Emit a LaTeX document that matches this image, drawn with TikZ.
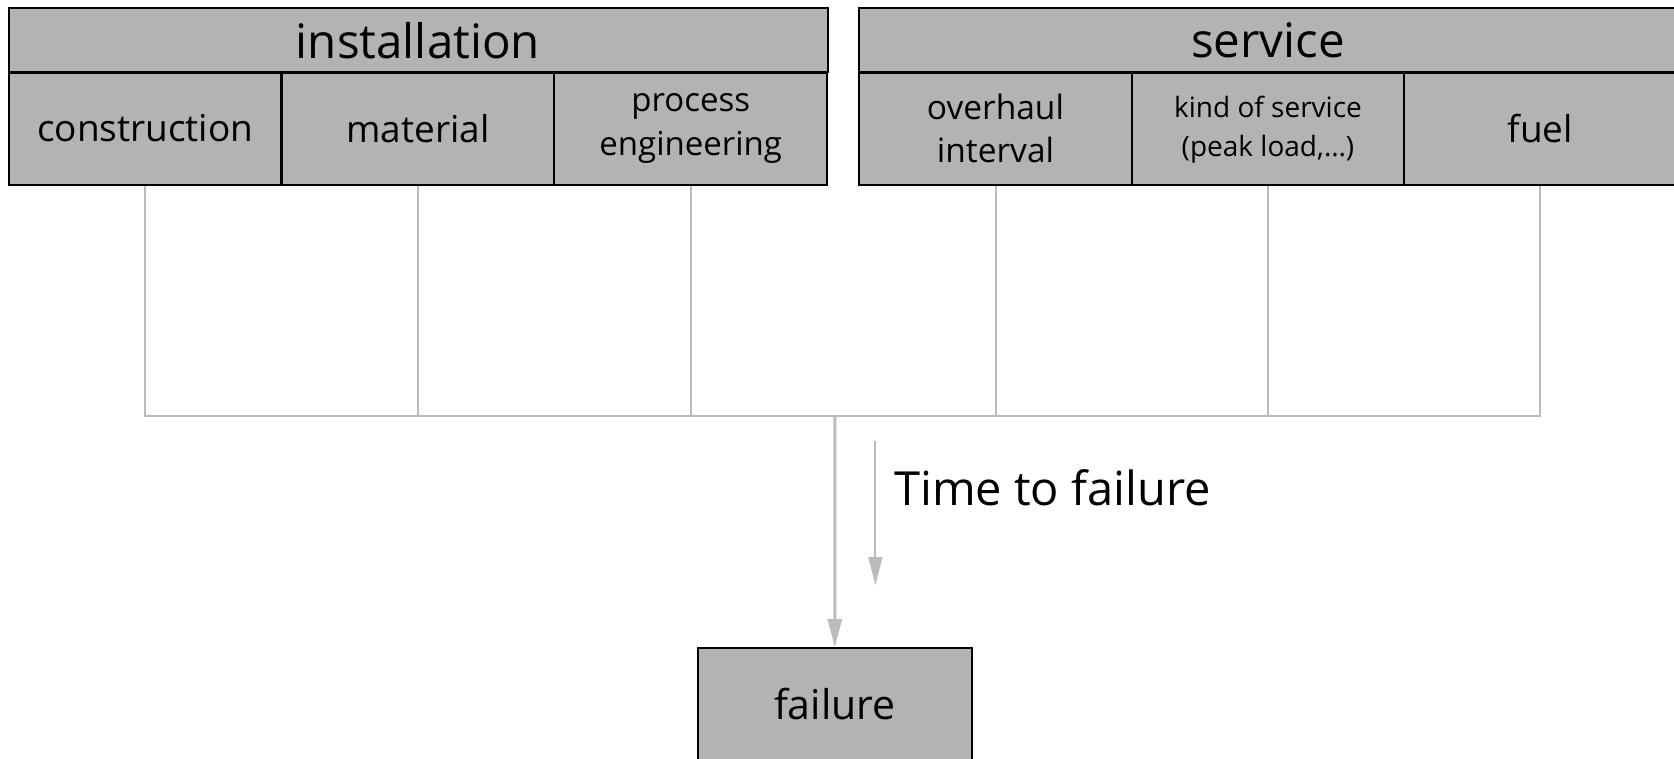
\documentclass[tikz,border=0pt]{standalone}
\usepackage{fontspec}
\setmainfont{Open Sans}
\usetikzlibrary{arrows.meta}
\definecolor{boxfill}{HTML}{B3B3B3}
\definecolor{linkgray}{HTML}{BBBBBB}
\tikzset{
  cell/.style={draw=black, line width=2pt, fill=boxfill, rectangle, inner sep=0pt,
    minimum width=272.5pt, minimum height=112pt, align=center, font=\fontsize{37}{44}\selectfont},
  head/.style={draw=black, line width=2pt, fill=boxfill, rectangle, inner sep=0pt,
    minimum height=64pt, font=\fontsize{47.5}{56}\selectfont},
  link/.style={draw=linkgray, line width=2pt},
  flow/.style={draw=linkgray, line width=3pt, -{Triangle[width=14pt,length=28pt]}},
  timearrow/.style={draw=linkgray, line width=2pt, -{Triangle[width=14pt,length=28pt]}},
}
\begin{document}
\begin{tikzpicture}[x=1pt,y=-1pt]
\useasboundingbox (0,0) rectangle (1674,759);
% installation group
\node[head, minimum width=819pt] (inst) at (418,40.5) {installation};
\node[cell] (c1) at (145.2,128.6) {construction};
\node[cell] (c2) at (418.0,128.6) {material};
\node[cell, font=\fontsize{33}{44}\selectfont] (c3) at (690.7,128.6) {process\\engineering};
% service group
\node[head, minimum width=817pt] (serv) at (1267.9,40.5) {service};
\node[cell, font=\fontsize{33.5}{43}\selectfont] (c4) at (995.5,128.6) {overhaul\\interval};
\node[cell, font=\fontsize{28}{39}\selectfont] (c5) at (1268.0,129.5) {kind of service\\(peak load,…)};
\node[cell] (c6) at (1540.4,128.6) {fuel};
% failure box
\node[cell, minimum width=273.5pt, font=\fontsize{41}{49}\selectfont] (fail) at (834.8,704) {failure};
% collecting bus
\coordinate (bus) at (834.9,416.4);
\draw[link] (c1.south) |- (bus) -| (c6.south);
\foreach \c in {c2,c3,c4,c5} \draw[link] (\c.south) -- (\c.south |- bus);
\draw[flow] (bus) -- (fail.north);
% time direction
\coordinate (ts) at (875.4,440.9);
\coordinate (te) at (875.4,585);
\draw[timearrow] (ts) -- (te);
\node[anchor=west, inner sep=0pt, font=\fontsize{47}{56}\selectfont] (ttf) at (894,488) {Time to failure};
\end{tikzpicture}
\end{document}
